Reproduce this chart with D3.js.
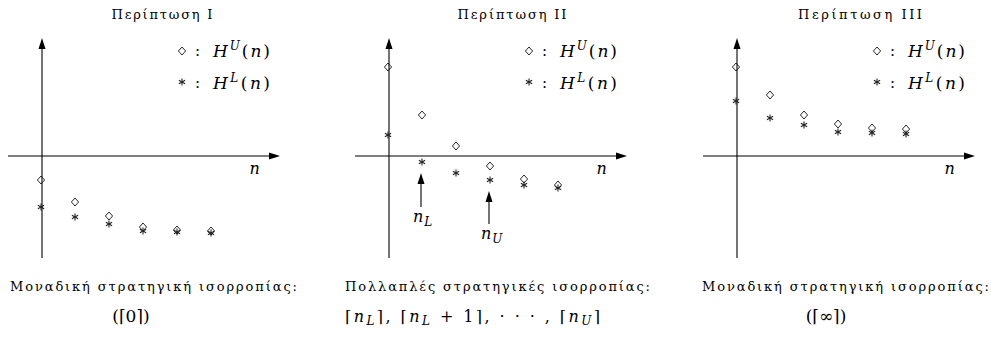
<!DOCTYPE html>
<html>
<head>
<meta charset="utf-8">
<script src="https://cdn.jsdelivr.net/npm/d3@7"></script>
<style>
  body { margin: 0; background: #fff; }
  svg text { font-family: "DejaVu Serif"; }
</style>
</head>
<body>
<div id="chart"></div>
<script>
// Chart values (vertical units, x-axis at 0)
const nValues = [0, 1, 2, 3, 4, 5];
const panelTitles = ["Περίπτωση I", "Περίπτωση II", "Περίπτωση III"];

const upperCase1 = [-2.4, -4.6, -6.0, -7.1, -7.4, -7.5];
const lowerCase1 = [-5.1, -6.1, -6.8, -7.5, -7.6, -7.7];
const upperCase2 = [8.9, 4.1, 1.0, -1.0, -2.3, -2.9];
const lowerCase2 = [2.1, -0.6, -1.7, -2.4, -2.9, -3.2];
const upperCase3 = [8.9, 6.1, 4.1, 3.2, 2.8, 2.7];
const lowerCase3 = [5.5, 3.8, 3.1, 2.4, 2.3, 2.2];

const captionTop = ["Μοναδική στρατηγική ισορροπίας:", "Πολλαπλές στρατηγικές ισορροπίας:", "Μοναδική στρατηγική ισορροπίας:"];

// arrows in case II: which n they point to, tail and tip heights
const markers2 = [
  { n: 1, from: -5.1, to: -1.7, label: "L" },
  { n: 3, from: -6.8, to: -3.5, label: "U" }
];

const width = 991, height = 337;
const svg = d3.select("#chart").append("svg")
  .attr("width", width).attr("height", height);

const panels = [
  { ox: 42, upper: upperCase1, lower: lowerCase1, title: panelTitles[0], titleX: 162, titleW: 101, capX: 10, capW: 287 },
  { ox: 389, upper: upperCase2, lower: lowerCase2, title: panelTitles[1], titleX: 512, titleW: 109, capX: 345, capW: 305 },
  { ox: 737, upper: upperCase3, lower: lowerCase3, title: panelTitles[2], titleX: 860, titleW: 124, capX: 702, capW: 287 }
];

const axisY = 156;

function diamond(g, x, y) {
  g.append("path")
    .attr("d", `M${x},${y - 4}L${x + 3.6},${y}L${x},${y + 4}L${x - 3.6},${y}Z`)
    .attr("fill", "none").attr("stroke", "#111").attr("stroke-width", 0.9);
}

function star(g, x, y) {
  const r = 3.6;
  [90, 30, 150].forEach(a => {
    const dx = r * Math.cos(a * Math.PI / 180), dy = r * Math.sin(a * Math.PI / 180);
    g.append("line")
      .attr("x1", x - dx).attr("y1", y - dy).attr("x2", x + dx).attr("y2", y + dy)
      .attr("stroke", "#222").attr("stroke-width", 1.1);
  });
}

function arrowHead(g, x, y, dir) {
  const pts = dir === "up"
    ? [[x, y], [x - 3.5, y + 11], [x + 3.5, y + 11]]
    : [[x, y], [x - 11, y - 3.5], [x - 11, y + 3.5]];
  g.append("path").attr("d", d3.line()(pts) + "Z").attr("fill", "#000");
}

function hLabel(g, x, y, sup) {
  const t = g.append("text").attr("x", x).attr("y", y).attr("font-size", 17)
    .attr("textLength", 57).attr("lengthAdjust", "spacing");
  t.append("tspan").attr("font-style", "italic").text("H");
  t.append("tspan").attr("font-style", "italic").attr("font-size", 12).attr("dy", -7).text(sup);
  t.append("tspan").attr("dy", 7).text("(");
  t.append("tspan").attr("font-style", "italic").text("n");
  t.append("tspan").text(")");
}

panels.forEach((p, i) => {
  const g = svg.append("g");
  const x = d3.scaleLinear().domain([-1, 7]).range([p.ox - 34, p.ox + 238]);
  const y = d3.scaleLinear().domain([-10, 12]).range([axisY + 100, axisY - 120]);

  // axes
  g.append("line").attr("x1", x(-1)).attr("x2", x(7) - 6).attr("y1", y(0)).attr("y2", y(0))
    .attr("stroke", "#000").attr("stroke-width", 1.1);
  arrowHead(g, x(7), y(0), "right");
  g.append("line").attr("x1", x(0)).attr("x2", x(0)).attr("y1", y(-10.2)).attr("y2", y(11.8) + 6)
    .attr("stroke", "#000").attr("stroke-width", 1.1);
  arrowHead(g, x(0), y(11.8), "up");

  g.append("text").attr("x", x(6.1)).attr("y", y(0) + 18).attr("font-size", 16)
    .attr("font-style", "italic").text("n");

  // points
  nValues.forEach((n, k) => {
    diamond(g, x(n) - 1, y(p.upper[k]));
    star(g, x(n) - 1, y(p.lower[k]));
  });

  // title
  g.append("text").attr("x", p.titleX - p.titleW / 2).attr("y", 19).attr("font-size", 13)
    .attr("textLength", p.titleW).attr("lengthAdjust", "spacing").text(p.title);

  // legend
  diamond(g, p.ox + 140, 51);
  g.append("text").attr("x", p.ox + 153).attr("y", 56).attr("font-size", 15).text(":");
  hLabel(g, p.ox + 171, 57, "U");
  star(g, p.ox + 140, 82);
  g.append("text").attr("x", p.ox + 153).attr("y", 88).attr("font-size", 15).text(":");
  hLabel(g, p.ox + 171, 89, "L");

  // caption
  g.append("text").attr("x", p.capX).attr("y", 291).attr("font-size", 13)
    .attr("textLength", p.capW).attr("lengthAdjust", "spacing").text(captionTop[i]);
});

// annotations for case II
const p2 = panels[1];
const x2 = d3.scaleLinear().domain([-1, 7]).range([p2.ox - 34, p2.ox + 238]);
const y2 = d3.scaleLinear().domain([-10, 12]).range([axisY + 100, axisY - 120]);
markers2.forEach(m => {
  const ax = x2(m.n) - 2;
  svg.append("line").attr("x1", ax).attr("x2", ax).attr("y1", y2(m.from)).attr("y2", y2(m.to) + 6)
    .attr("stroke", "#000").attr("stroke-width", 1.1);
  arrowHead(svg, ax, y2(m.to), "up");
  const t = svg.append("text").attr("x", ax - 8).attr("y", y2(m.from) + 15).attr("font-size", 16)
    .attr("font-style", "italic");
  t.append("tspan").text("n");
  t.append("tspan").attr("font-size", 12).attr("dy", 4).attr("dx", 1).text(m.label);
});

// second caption line
svg.append("text").attr("x", 131).attr("y", 322).attr("font-size", 17)
  .attr("text-anchor", "middle").text("(⌈0⌉)");

svg.append("text").attr("x", 826).attr("y", 322).attr("font-size", 17)
  .attr("text-anchor", "middle").text("(⌈∞⌉)");

const cap2 = svg.append("text").attr("x", 345).attr("y", 322).attr("font-size", 16)
  .attr("textLength", 255).attr("lengthAdjust", "spacing");
cap2.append("tspan").text("⌈");
cap2.append("tspan").attr("font-style", "italic").text("n");
cap2.append("tspan").attr("font-style", "italic").attr("font-size", 12).attr("dy", 3).text("L");
cap2.append("tspan").attr("dy", -3).text("⌉, ⌈");
cap2.append("tspan").attr("font-style", "italic").text("n");
cap2.append("tspan").attr("font-style", "italic").attr("font-size", 12).attr("dy", 3).text("L");
cap2.append("tspan").attr("dy", -3).text(" + 1⌉, · · · , ⌈");
cap2.append("tspan").attr("font-style", "italic").text("n");
cap2.append("tspan").attr("font-style", "italic").attr("font-size", 12).attr("dy", 3).text("U");
cap2.append("tspan").attr("dy", -3).text("⌉");
</script>
</body>
</html>
